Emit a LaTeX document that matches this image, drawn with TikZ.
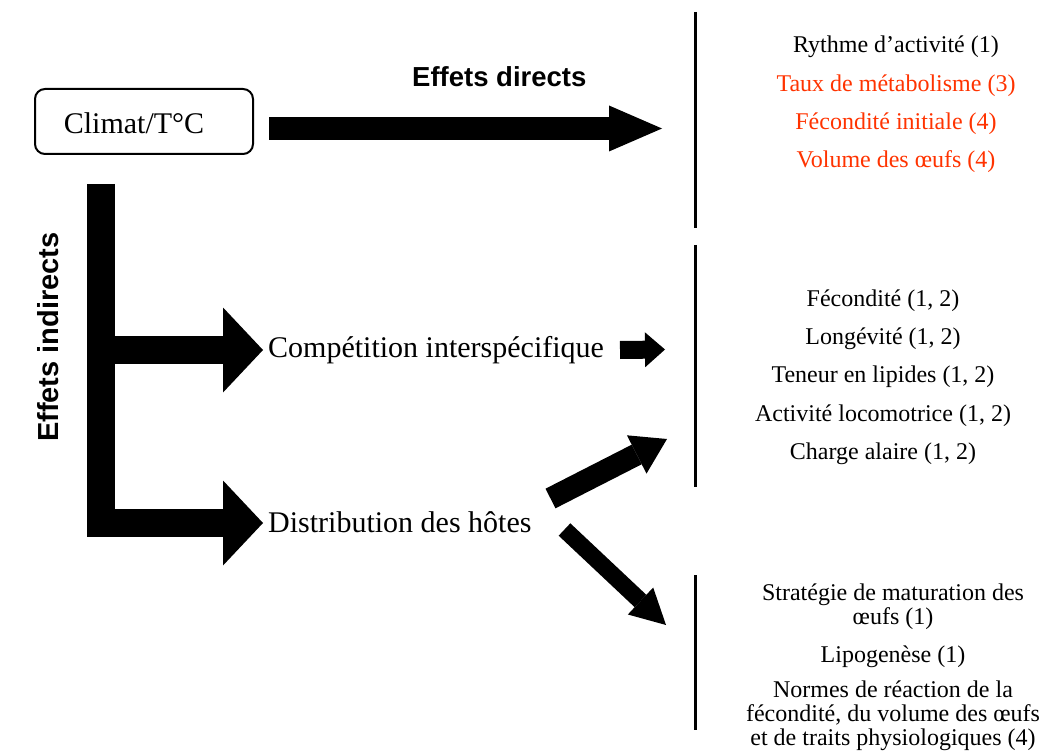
\documentclass[tikz,border=0pt]{standalone}
\usepackage{fontspec}
\setmainfont{Liberation Serif}
\newfontfamily\headfont{Liberation Sans}
\usetikzlibrary{arrows.meta}
\definecolor{accred}{RGB}{255,51,0}
\tikzset{
  serifbig/.style={font=\fontsize{30}{36}\selectfont, inner sep=0pt},
  itemtxt/.style={font=\fontsize{24}{24}\selectfont, align=center, inner sep=0pt, anchor=base},
  redtxt/.style={itemtxt, text=accred},
  headlbl/.style={font=\headfont\bfseries\fontsize{27.5}{30}\selectfont, inner sep=0pt},
  climatbox/.style={draw, rounded corners=10pt, line width=2pt, minimum width=218pt, minimum height=65pt, inner sep=0pt},
  blockarrow/.style n args={3}{line width=#1, line cap=butt, miter limit=10,
    -{Triangle[length=#2, width=#3, line width=0pt]}},
  sepline/.style={line width=3pt}
}
\begin{document}
\begin{tikzpicture}[x=1pt,y=-1pt]
\useasboundingbox (0,0) rectangle (1046,751);

% source box
\node[climatbox] (climat) at (144,121.5) {};
\node[serifbig, anchor=base] (climattxt) at (134,134) {Climat/T°C};

% labels
\node[headlbl, anchor=base west] (direct) at (412,87) {Effets directs};
\node[headlbl, font=\headfont\bfseries\fontsize{29}{30}\selectfont, anchor=base west, rotate=90] (indirect) at (58,442) {Effets indirects};
\node[serifbig, anchor=base west] (compet) at (268,357) {Compétition interspécifique};
\node[serifbig, anchor=base west] (distrib) at (268,532) {Distribution des hôtes};

% separator lines
\coordinate (l1a) at (695,12);  \coordinate (l1b) at (695,228);
\coordinate (l2a) at (695,245); \coordinate (l2b) at (695,487);
\coordinate (l3a) at (695,575); \coordinate (l3b) at (695,730);
\draw[sepline] (l1a) -- (l1b);
\draw[sepline] (l2a) -- (l2b);
\draw[sepline] (l3a) -- (l3b);

% arrow end points
\coordinate (dtail) at (269,128.5);  \coordinate (dtip) at (662,128.5);
\coordinate (ltop) at (101,184);
\coordinate (bjoin) at (101,350);
\coordinate (btip1) at (263,350);
\coordinate (btip2) at (263,523);
\coordinate (ctail) at (620,350);   \coordinate (ctip) at (665,349.5);
\coordinate (utail) at (550.5,498.5); \coordinate (utip) at (667,439);
\coordinate (wtail) at (564.5,529.5); \coordinate (wtip) at (666,625);

% block arrows
\draw[blockarrow={23pt}{53pt}{46pt}] (dtail) -- (dtip);
\draw[blockarrow={28.5pt}{40pt}{85pt}] (ltop) |- (btip2);
\draw[blockarrow={28.5pt}{40pt}{85pt}] (bjoin) -- (btip1);
\draw[blockarrow={18pt}{20pt}{35pt}] (ctail) -- (ctip);
\draw[blockarrow={22pt}{34pt}{43pt}] (utail) -- (utip);
\draw[blockarrow={17pt}{35pt}{37pt}] (wtail) -- (wtip);

% direct effects
\node[itemtxt] (r1) at (896,53) {Rythme d’activité (1)};
\node[redtxt] (r2) at (896,92) {Taux de métabolisme (3)};
\node[redtxt] (r3) at (896,130) {Fécondité initiale (4)};
\node[redtxt] (r4) at (896,168) {Volume des œufs (4)};

% competition effects
\node[itemtxt] (m1) at (883,306) {Fécondité (1, 2)};
\node[itemtxt] (m2) at (883,344) {Longévité (1, 2)};
\node[itemtxt] (m3) at (883,382) {Teneur en lipides (1, 2)};
\node[itemtxt] (m4) at (883,421) {Activité locomotrice (1, 2)};
\node[itemtxt] (m5) at (883,459) {Charge alaire (1, 2)};

% host distribution effects (base anchor = last line)
\node[itemtxt] (b1) at (893,624) {Stratégie de maturation des\\œufs (1)};
\node[itemtxt] (b2) at (893,662) {Lipogenèse (1)};
\node[itemtxt] (b3) at (893,745) {Normes de réaction de la\\fécondité, du volume des œufs\\et de traits physiologiques (4)};
\end{tikzpicture}
\end{document}
